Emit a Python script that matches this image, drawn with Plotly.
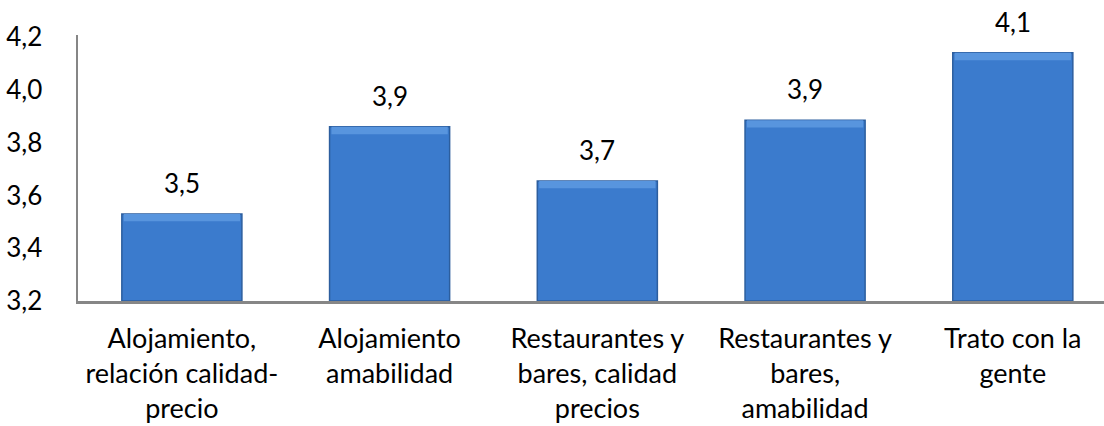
import plotly.graph_objects as go

categories = [
    "Alojamiento,<br>relación calidad-<br>precio",
    "Alojamiento<br>amabilidad",
    "Restaurantes y<br>bares, calidad<br>precios",
    "Restaurantes y<br>bares,<br>amabilidad",
    "Trato con la<br>gente",
]
values = [3.53, 3.86, 3.655, 3.885, 4.14]
y_ticks = [3.2, 3.4, 3.6, 3.8, 4.0, 4.2]
y_tick_labels = ["3,2", "3,4", "3,6", "3,8", "4,0", "4,2"]
AXIS_BASE = 3.2
BEVEL = 0.028

FONT = "Lato"
xs = list(range(len(categories)))
fig = go.Figure()
fig.add_trace(go.Bar(
    x=xs,
    y=[v - AXIS_BASE for v in values],
    base=AXIS_BASE,
    width=0.578,
    marker=dict(color="#3B7BCD", line=dict(color="#2C5E9E", width=1.5)),
    hoverinfo="skip",
))
# lighter top bevel band
fig.add_trace(go.Bar(
    x=xs,
    y=[BEVEL] * len(values),
    base=[v - BEVEL for v in values],
    width=0.56,
    marker=dict(color="#5895DE", line=dict(width=0)),
    hoverinfo="skip",
))
fig.update_layout(barmode="overlay")

for i, v in enumerate(values):
    fig.add_annotation(
        x=i, y=v, xref="x", yref="y",
        text=f"{v:.1f}".replace(".", ","),
        showarrow=False, yanchor="bottom", yshift=13,
        font=dict(family=FONT, size=26, color="#000000"),
    )

fig.update_layout(
    width=1104, height=426,
    margin=dict(l=78, r=0, t=35, b=125),
    paper_bgcolor="white", plot_bgcolor="white",
    showlegend=False,
    font=dict(family=FONT, size=26, color="#000000"),
    xaxis=dict(
        tickmode="array",
        tickvals=xs,
        ticktext=categories,
        range=[-0.5, 4.439],
        showline=True, linecolor="#868686", linewidth=2.5,
        showgrid=False, zeroline=False, automargin=False,
        ticks="outside", ticklen=12, tickcolor="rgba(0,0,0,0)",
        tickfont=dict(family=FONT, size=27, color="#000000"),
    ),
    yaxis=dict(
        range=[AXIS_BASE, 4.2076],
        tickmode="array",
        tickvals=y_ticks,
        ticktext=y_tick_labels,
        showline=True, linecolor="#868686", linewidth=2.5,
        showgrid=False, zeroline=False, automargin=False,
        ticks="outside", ticklen=28, tickcolor="rgba(0,0,0,0)",
        tickfont=dict(family=FONT, size=26, color="#000000"),
    ),
)

fig.write_html(
    "out.html",
    config={"displayModeBar": False, "staticPlot": True},
    post_script="document.body.style.margin='0';document.body.style.overflow='hidden';",
)
